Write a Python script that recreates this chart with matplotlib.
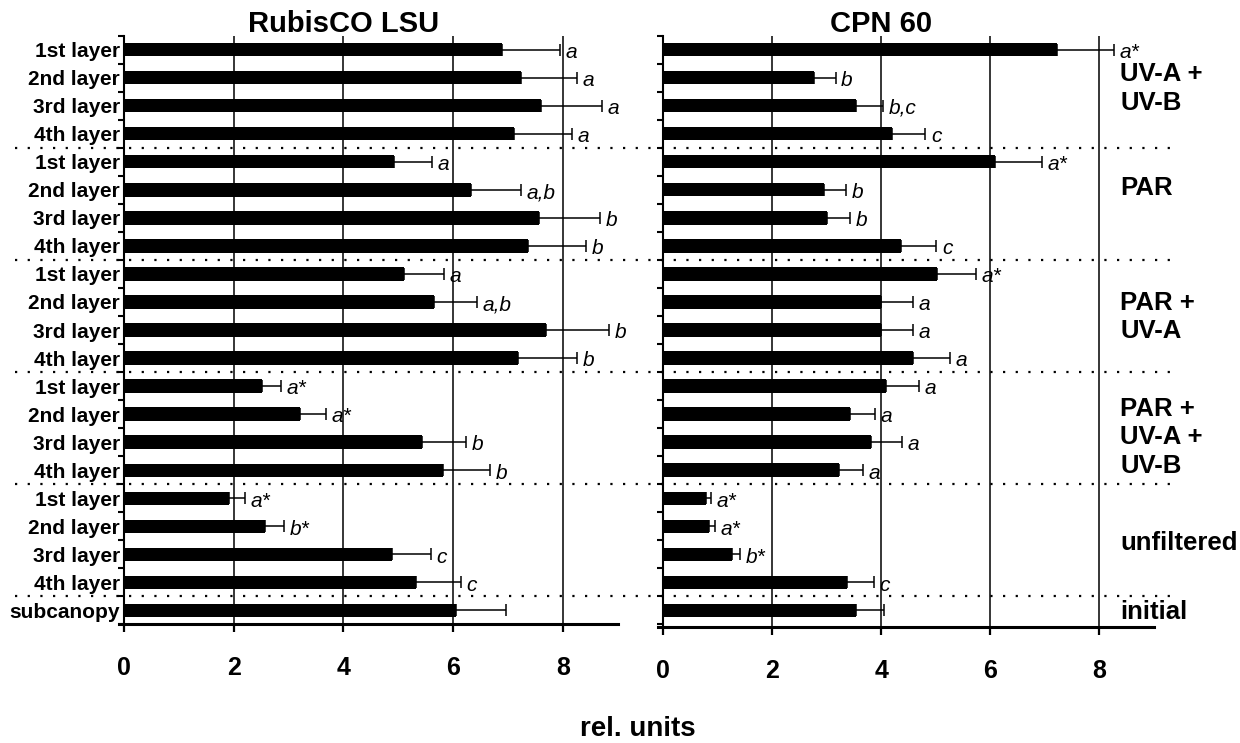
import numpy as np
import matplotlib
matplotlib.use("Agg")
import matplotlib.pyplot as plt
from matplotlib.lines import Line2D
from matplotlib.transforms import blended_transform_factory

# ---- data -------------------------------------------------------------
row_labels = ["1st layer", "2nd layer", "3rd layer", "4th layer"] * 5 + ["subcanopy"]

rubisco_mean = [6.90, 7.23, 7.60, 7.11,
                4.92, 6.32, 7.57, 7.36,
                5.10, 5.65, 7.69, 7.19,
                2.51, 3.21, 5.44, 5.82,
                1.92, 2.57, 4.88, 5.32,
                6.06]
rubisco_err = [1.04, 1.03, 1.12, 1.05,
               0.70, 0.92, 1.11, 1.06,
               0.74, 0.79, 1.16, 1.07,
               0.36, 0.48, 0.79, 0.85,
               0.28, 0.35, 0.71, 0.82,
               0.90]
rubisco_sig = ["a", "a", "a", "a",
               "a", "a,b", "b", "b",
               "a", "a,b", "b", "b",
               "a*", "a*", "b", "b",
               "a*", "b*", "c", "c",
               ""]

cpn_mean = [7.23, 2.76, 3.53, 4.19,
            6.08, 2.94, 3.00, 4.37,
            5.03, 4.00, 3.99, 4.59,
            4.08, 3.42, 3.81, 3.22,
            0.78, 0.84, 1.27, 3.37,
            3.54]
cpn_err = [1.04, 0.40, 0.51, 0.62,
           0.87, 0.41, 0.43, 0.64,
           0.71, 0.58, 0.59, 0.67,
           0.62, 0.47, 0.57, 0.45,
           0.10, 0.11, 0.14, 0.49,
           0.51]
cpn_sig = ["a*", "b", "b,c", "c",
           "a*", "b", "b", "c",
           "a*", "a", "a", "a",
           "a", "a", "a", "a",
           "a*", "a*", "b*", "c",
           ""]

group_names = ["UV-A +\nUV-B", "PAR", "PAR +\nUV-A",
               "PAR +\nUV-A +\nUV-B", "unfiltered", "initial"]
group_sizes = [4, 4, 4, 4, 4, 1]

panel_titles = ["RubisCO LSU", "CPN 60"]
x_ticks = [0, 2, 4, 6, 8]
x_label = "rel. units"

# ---- figure -----------------------------------------------------------
plt.rcParams["font.family"] = ["Liberation Sans", "DejaVu Sans"]
fig = plt.figure(figsize=(12.4, 7.43), dpi=100)

ax_bottom, ax_height = 0.1595, 0.7927
ax_l = fig.add_axes([0.0956, ax_bottom, 0.4025, ax_height])
ax_r = fig.add_axes([0.5305, ax_bottom - 0.003, 0.4000, ax_height + 0.003])

rows = np.arange(len(row_labels))
group_bounds = np.cumsum(group_sizes)[:-1] - 0.5


def draw_panel(ax, means, errs, sigs, title, show_labels, extra_bottom=0.0):
    ax.set_xlim(-0.1, 9)
    ax.set_ylim(len(rows) - 0.5 + extra_bottom, -0.5)

    for g in x_ticks[1:]:
        ax.axvline(g, color="black", lw=1.1, zorder=1)

    ax.barh(rows, means, height=0.48, color="black", zorder=3)
    ax.errorbar(means, rows, xerr=[np.zeros(len(errs)), errs], fmt="none",
                ecolor="black", elinewidth=1.1, capsize=4, capthick=1.1,
                zorder=2)

    for r, m, e, s in zip(rows, means, errs, sigs):
        if s:
            ax.annotate(s, (m + e, r), xytext=(4, -2), textcoords="offset points",
                        ha="left", va="center", fontsize=15, style="italic",
                        annotation_clip=False)

    for side in ("top", "right"):
        ax.spines[side].set_visible(False)
    ax.spines["left"].set_position(("data", 0))
    ax.spines["left"].set_linewidth(1.5)
    ax.spines["bottom"].set_linewidth(2.2)

    ax.set_xticks(x_ticks)
    ax.set_xticklabels([str(t) for t in x_ticks], fontsize=18, fontweight="bold")
    ax.tick_params(axis="x", direction="out", length=6, width=1.6, pad=17)

    ax.set_yticks(rows)
    if show_labels:
        ax.set_yticklabels(row_labels, fontsize=15, fontweight="bold")
    else:
        ax.set_yticklabels([])
    ax.tick_params(axis="y", which="major", length=0, pad=3)
    ax.set_yticks(np.arange(-0.5, len(rows)), minor=True)
    ax.tick_params(axis="y", which="minor", direction="out", length=4, width=1.5)

    trans = blended_transform_factory(ax.transData, fig.transFigure)
    ax.text(4, 0.968, title, transform=trans, ha="center", va="center",
            fontsize=21, fontweight="bold")


draw_panel(ax_l, rubisco_mean, rubisco_err, rubisco_sig, panel_titles[0], True)
draw_panel(ax_r, cpn_mean, cpn_err, cpn_sig, panel_titles[1], False,
           extra_bottom=0.08)

# treatment names beside the right panel
label_shift = [-0.11, -0.56, 0.04, 0.33, 0.09, 0.05]
starts = np.concatenate([[0], np.cumsum(group_sizes)[:-1]])
for name, st, n, dy in zip(group_names, starts, group_sizes, label_shift):
    yc = st + (n - 1) / 2 + dy
    ax_r.text(8.38, yc, name, ha="left", va="center", fontsize=18.5,
              fontweight="bold", linespacing=1.25, clip_on=False)

# dotted separators running across both panels
for yb in group_bounds:
    y_fig = fig.transFigure.inverted().transform(ax_l.transData.transform((0, yb)))[1]
    fig.add_artist(Line2D([0.012, 0.952], [y_fig, y_fig], transform=fig.transFigure,
                          color="black", lw=1.6, linestyle=(0, (1, 4.7))))

fig.text(0.514, 0.019, x_label, ha="center", va="center",
         fontsize=20, fontweight="bold")

fig.savefig("out.png", dpi=100)
